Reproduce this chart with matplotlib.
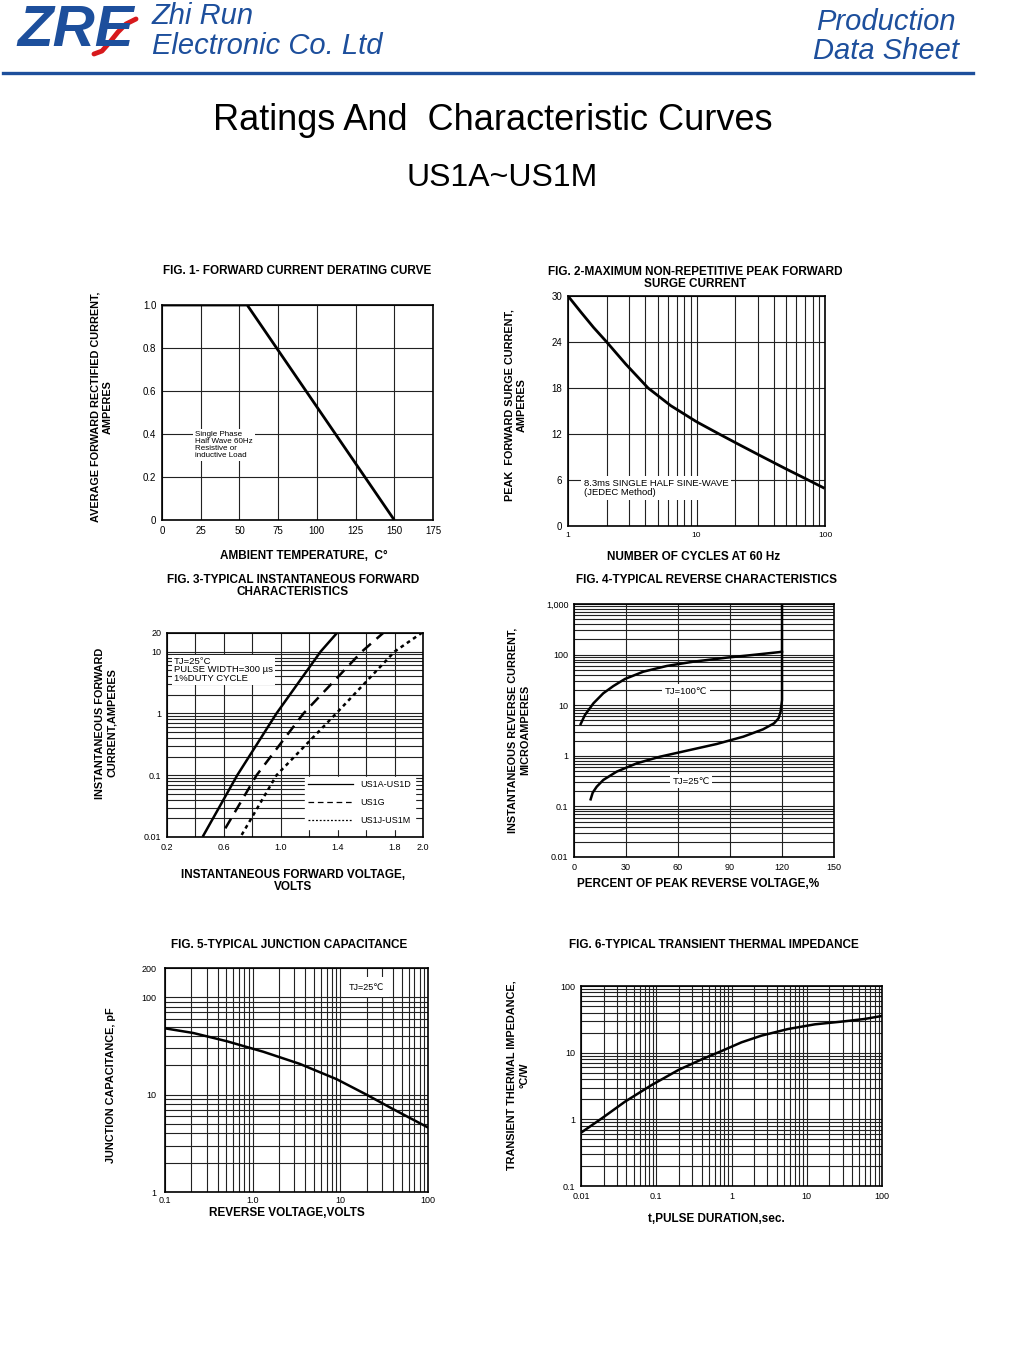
import numpy as np
import matplotlib
matplotlib.use("Agg")
import matplotlib.pyplot as plt
from matplotlib.ticker import LogLocator, NullFormatter
from matplotlib.lines import Line2D

W, H = 1028, 1349
BLUE = "#1d4f9c"
SANS = ["Liberation Sans", "DejaVu Sans"]
plt.rcParams["font.family"] = SANS

# FIG. 1 forward current derating
f1_temp = [0, 55, 150]
f1_amps = [1.0, 1.0, 0.0]
# FIG. 2 surge current
f2_cycles = [1, 1.26, 1.58, 2, 2.82, 4.2, 6.3, 10, 15, 21, 32, 49, 72, 97]
f2_amps = [30, 27.9, 25.9, 24.0, 21.1, 18.0, 15.7, 13.6, 12.0, 10.7, 9.1, 7.5, 6.1, 5.0]
# FIG. 3 forward characteristics
f3_v_ad = [0.455, 0.694, 0.97, 1.28, 1.395]
f3_i_ad = [0.0105, 0.1, 1.0, 10, 20]
f3_v_g = [0.61, 0.83, 1.16, 1.57, 1.72]
f3_i_g = [0.0138, 0.1, 1.0, 10, 20]
f3_v_jm = [0.725, 0.97, 1.39, 1.80, 1.99]
f3_i_jm = [0.0108, 0.1, 1.0, 10, 20]
# FIG. 4 reverse characteristics
f4_pct_100 = [3.85, 6.3, 11.2, 16.9, 22.7, 29.4, 40, 53.5, 68.8, 88, 105, 118.5, 120]
f4_ua_100 = [4.25, 6.4, 10.9, 17.2, 23.9, 33, 46, 59.6, 72.4, 87, 100, 112, 115]
f4_pct_25 = [9.6, 10.8, 13.1, 16.9, 24.6, 36.2, 49.6, 65, 82.3, 97.7, 109,
             115.4, 118, 119.2, 120, 120]
f4_ua_25 = [0.138, 0.187, 0.245, 0.333, 0.486, 0.71, 0.96, 1.26, 1.71, 2.39,
            3.33, 4.38, 5.5, 7.45, 12.6, 1000]
# FIG. 5 junction capacitance
f5_volts = [0.1, 0.21, 0.506, 1.32, 3.45, 9.1, 19.9, 40, 100]
f5_pf = [48, 43, 35.4, 27.6, 20.7, 14.4, 10, 7.1, 4.6]
# FIG. 6 transient thermal impedance
f6_t = [0.01, 0.0188, 0.0384, 0.0869, 0.197, 0.402, 0.74, 1.36, 2.5, 5.6,
        12.8, 28.8, 58.5, 100]
f6_z = [0.63, 1.03, 1.84, 3.27, 5.5, 7.94, 10.6, 14.3, 18, 22.6, 26.6, 29.2,
        32, 35.5]

fig = plt.figure(figsize=(W / 100, H / 100), dpi=100)


def put(x, y, s, **kw):
    kw.setdefault("ha", "center")
    kw.setdefault("va", "center")
    return fig.text(x / W, 1 - y / H, s, **kw)


def box(x0, y0, x1, y1):
    ax = fig.add_axes([x0 / W, 1 - y1 / H, (x1 - x0) / W, (y1 - y0) / H])
    for s in ax.spines.values():
        s.set_linewidth(1.2)
    ax.tick_params(which="both", length=0, labelsize=7, pad=4)
    return ax


def logminor(axis):
    axis.set_minor_locator(LogLocator(base=10, subs=range(2, 10), numticks=30))
    axis.set_minor_formatter(NullFormatter())


GRID = dict(color="#222222", lw=0.8)
BOLD = dict(fontweight="bold", fontsize=8.5)
YLAB = dict(fontweight="bold", fontsize=7.8, rotation=90, linespacing=1.3)

# ---------- header ----------
put(76, 31, "ZRE", fontsize=42, fontweight="bold", fontstyle="italic",
    color=BLUE)
sx = np.array([94, 102, 110, 118, 126, 136])
sy = np.array([54, 51, 42, 32, 24, 19])
fig.add_artist(Line2D(sx / W, 1 - sy / H, color="#d7191c", lw=3.5,
                      solid_capstyle="round"))
put(152, 16, "Zhi Run", fontsize=21, fontstyle="italic", color=BLUE, ha="left")
put(152, 46, "Electronic Co. Ltd", fontsize=21, fontstyle="italic",
    color=BLUE, ha="left")
put(886, 22, "Production", fontsize=21, fontstyle="italic", color=BLUE)
put(886, 51, "Data Sheet", fontsize=21, fontstyle="italic", color=BLUE)
fig.add_artist(Line2D([3 / W, 973 / W], [1 - 72.5 / H] * 2, color=BLUE, lw=2.4))

put(493, 121, "Ratings And  Characteristic Curves", fontsize=26)
put(502, 178, "US1A~US1M", fontsize=23)

# ---------- FIG 1 ----------
ax = box(162, 305, 433, 520)
ax.plot(f1_temp, f1_amps, color="black", lw=2, solid_capstyle="butt")
ax.set_xlim(0, 175)
ax.set_ylim(0, 1.0)
ax.set_xticks(range(0, 176, 25))
ax.set_yticks([0, 0.2, 0.4, 0.6, 0.8, 1.0], ["0", "0.2", "0.4", "0.6", "0.8", "1.0"])
ax.grid(True, **GRID)
put(297, 271, "FIG. 1- FORWARD CURRENT DERATING CURVE", **BOLD)
put(102, 407, "AVERAGE FORWARD RECTIFIED CURRENT,\nAMPERES", **YLAB)
put(304, 556, "AMBIENT TEMPERATURE,  C°", **BOLD)
put(195, 445, "Single Phase\nHalf Wave 60Hz\nResistive or\ninductive Load",
    ha="left", fontsize=5.8, linespacing=0.95,
    bbox=dict(fc="white", ec="none", pad=1.5))

# ---------- FIG 2 ----------
ax = box(568, 296, 825, 526)
ax.plot(f2_cycles, f2_amps, color="black", lw=2)
ax.set_xscale("log")
ax.set_xlim(1, 100)
ax.set_ylim(0, 30)
ax.set_xticks([1, 10, 100], ["1", "10", "100"])
logminor(ax.xaxis)
ax.set_yticks(range(0, 31, 6))
ax.tick_params(axis="x", labelsize=6)
ax.grid(True, which="both", **GRID)
put(695, 278, "FIG. 2-MAXIMUM NON-REPETITIVE PEAK FORWARD\nSURGE CURRENT",
    linespacing=0.9, **BOLD)
put(516, 405, "PEAK  FORWARD SURGE CURRENT,\nAMPERES", **YLAB)
put(694, 557, "NUMBER OF CYCLES AT 60 Hz", **BOLD)
put(584, 488, "8.3ms SINGLE HALF SINE-WAVE\n(JEDEC Method)", ha="left",
    fontsize=6.8, linespacing=1.1, bbox=dict(fc="white", ec="none", pad=2))

# ---------- FIG 3 ----------
ax = box(167, 633, 423, 837)
ax.plot(f3_v_ad, f3_i_ad, color="black", lw=1.8, label="US1A-US1D")
ax.plot(f3_v_g, f3_i_g, color="black", lw=1.8, dashes=(4.5, 3), label="US1G")
ax.plot(f3_v_jm, f3_i_jm, color="black", lw=1.8, dashes=(1.5, 1.5),
        label="US1J-US1M")
ax.set_yscale("log")
ax.set_xlim(0.2, 2.0)
ax.set_ylim(0.01, 20)
xt = np.round(np.arange(0.2, 2.01, 0.2), 1)
ax.set_xticks(xt, [f"{v:.1f}" if v in (0.2, 0.6, 1.0, 1.4, 1.8, 2.0) else ""
                   for v in xt])
ax.set_yticks([0.01, 0.1, 1, 10, 20], ["0.01", "0.1", "1", "10", "20"])
logminor(ax.yaxis)
ax.tick_params(labelsize=6.5)
ax.grid(True, which="both", **GRID)
leg = ax.legend(loc="lower right", fontsize=6.5, handlelength=5,
                labelspacing=1.0, borderaxespad=0.9, fancybox=False,
                framealpha=1, edgecolor="white")
for h in leg.get_lines():
    h.set_linewidth(0.9)
put(293, 586, "FIG. 3-TYPICAL INSTANTANEOUS FORWARD\nCHARACTERISTICS",
    linespacing=0.9, **BOLD)
put(106, 723, "INSTANTANEOUS FORWARD\nCURRENT,AMPERES", **YLAB)
put(293, 881, "INSTANTANEOUS FORWARD VOLTAGE,\nVOLTS", linespacing=0.9, **BOLD)
put(174, 670, "TJ=25°C\nPULSE WIDTH=300 µs\n1%DUTY CYCLE", ha="left",
    fontsize=6.8, linespacing=0.95, bbox=dict(fc="white", ec="none", pad=1.5))

# ---------- FIG 4 ----------
ax = box(574, 604, 834, 857)
ax.plot(f4_pct_100, f4_ua_100, color="black", lw=1.8)
ax.plot(f4_pct_25, f4_ua_25, color="black", lw=1.8)
ax.set_yscale("log")
ax.set_xlim(0, 150)
ax.set_ylim(0.01, 1000)
ax.set_xticks(range(0, 151, 30))
ax.set_yticks([0.01, 0.1, 1, 10, 100, 1000],
              ["0.01", "0.1", "1", "10", "100", "1,000"])
logminor(ax.yaxis)
ax.tick_params(labelsize=6.5)
ax.grid(True, which="both", **GRID)
put(707, 580, "FIG. 4-TYPICAL REVERSE CHARACTERISTICS", **BOLD)
put(519, 730, "INSTANTANEOUS REVERSE CURRENT,\nMICROAMPERES", **YLAB)
put(698, 884, "PERCENT OF PEAK REVERSE VOLTAGE,%", **BOLD)
put(686, 691, "TJ=100℃", fontsize=6.8, bbox=dict(fc="white", ec="none", pad=2))
put(691, 781, "TJ=25℃", fontsize=6.8, bbox=dict(fc="white", ec="none", pad=2))

# ---------- FIG 5 ----------
ax = box(165, 968, 428, 1192)
ax.plot(f5_volts, f5_pf, color="black", lw=1.8)
ax.set_xscale("log")
ax.set_yscale("log")
ax.set_xlim(0.1, 100)
ax.set_ylim(1, 200)
ax.set_xticks([0.1, 1, 10, 100], ["0.1", "1.0", "10", "100"])
ax.set_yticks([1, 10, 100, 200], ["1", "10", "100", "200"])
logminor(ax.xaxis)
logminor(ax.yaxis)
ax.tick_params(labelsize=6.5)
ax.tick_params(axis="x", pad=3)
ax.tick_params(axis="y", pad=6)
ax.grid(True, which="both", **GRID)
put(289, 945, "FIG. 5-TYPICAL JUNCTION CAPACITANCE", **BOLD)
put(111, 1085, "JUNCTION CAPACITANCE, pF", **YLAB)
put(287, 1213, "REVERSE VOLTAGE,VOLTS", **BOLD)
put(366, 987, "TJ=25℃", fontsize=6.5,
    bbox=dict(fc="white", ec="none", pad=4))

# ---------- FIG 6 ----------
ax = box(581, 986, 882, 1186)
ax.plot(f6_t, f6_z, color="black", lw=1.8)
ax.set_xscale("log")
ax.set_yscale("log")
ax.set_xlim(0.01, 100)
ax.set_ylim(0.1, 100)
ax.set_xticks([0.01, 0.1, 1, 10, 100], ["0.01", "0.1", "1", "10", "100"])
ax.set_yticks([0.1, 1, 10, 100], ["0.1", "1", "10", "100"])
logminor(ax.xaxis)
logminor(ax.yaxis)
ax.tick_params(labelsize=6.5)
ax.grid(True, which="both", **GRID)
put(714, 945, "FIG. 6-TYPICAL TRANSIENT THERMAL IMPEDANCE", **BOLD)
put(518, 1075, "TRANSIENT THERMAL IMPEDANCE,\n°C/W", **YLAB)
put(716, 1219, "t,PULSE DURATION,sec.", **BOLD)

fig.savefig("out.png", dpi=100)
